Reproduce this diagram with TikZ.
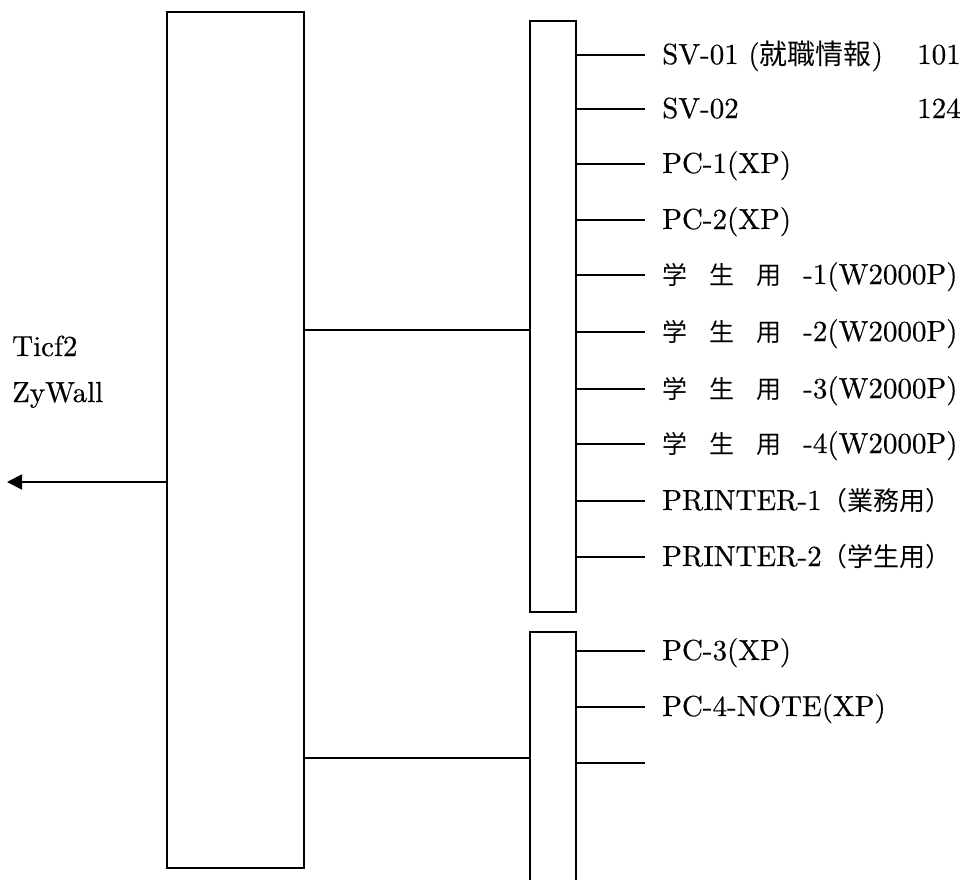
\documentclass[tikz,border=0pt]{standalone}
\usepackage{fontspec}
\setmainfont{lmroman10-regular.otf}[FakeBold=0.5]
\newfontfamily\cjk{Noto Sans CJK JP}
\usetikzlibrary{arrows.meta}
\tikzset{
  boxnode/.style={draw, line width=1.6pt, inner sep=0pt, rectangle},
  stub/.style={line width=1.4pt},
  wire/.style={line width=1.4pt},
  lbl/.style={inner sep=0pt, anchor=base west, font=\fontsize{29}{31}\selectfont},
}
\newcommand{\cj}[2]{{\cjk\fontsize{#1}{#1}\selectfont #2}}
\newcommand{\gk}[1]{\makebox[47pt][l]{\cj{25}{#1}}}
\begin{document}
\begin{tikzpicture}[x=1pt,y=-1pt]
\useasboundingbox (0,0) rectangle (966,879);
% boxes
\node[boxnode, minimum width=137pt, minimum height=856pt] (big) at (235.5,440) {};
\node[boxnode, minimum width=46pt, minimum height=591pt] (up) at (553,316.5) {};
\coordinate (lowTL) at (530,632);
\coordinate (lowTR) at (576,632);
\draw[line width=1.6pt] (530,900) -- (lowTL) -- (lowTR) -- (576,900);
% connectors big -> switches
\coordinate (c1) at (0,330);
\coordinate (c2) at (0,758);
\draw[wire] (big.east |- c1) -- (up.west |- c1);
\draw[wire] (big.east |- c2) -- (lowTL |- c2);
% uplink arrow
\coordinate (arr) at (7,482);
\draw[line width=1.8pt, -{Triangle[length=15pt,width=15pt]}] (big.west |- arr) -- (arr);
% left labels
\node[lbl] (ticf) at (12,356) {Ticf2};
\node[lbl] (zy) at (12,402) {ZyWall};
% upper stubs and labels
\foreach \i/\y in {1/55,2/109,3/164,4/220,5/275,6/332,7/389,8/444,9/501,10/557}{
  \coordinate (s\i) at (645,\y);
  \draw[stub] (up.east |- s\i) -- (s\i);
}
\node[lbl] (t1) at (662,64) {SV-01 (\cj{28}{就職情報})};
\node[lbl] (n1) at (917,64) {101};
\node[lbl] (t2) at (662,118) {SV-02};
\node[lbl] (n2) at (917,118) {124};
\node[lbl] (t3) at (662,173) {PC-1(XP)};
\node[lbl] (t4) at (662,229) {PC-2(XP)};
\node[lbl] (t5) at (662,284) {\gk{学}\gk{生}\gk{用}-1(W2000P)};
\node[lbl] (t6) at (662,341) {\gk{学}\gk{生}\gk{用}-2(W2000P)};
\node[lbl] (t7) at (662,398) {\gk{学}\gk{生}\gk{用}-3(W2000P)};
\node[lbl] (t8) at (662,453) {\gk{学}\gk{生}\gk{用}-4(W2000P)};
\node[lbl] (t9) at (662,510) {PRINTER-1\cj{26}{（業務用）}};
\node[lbl] (t10) at (662,566) {PRINTER-2\cj{26}{（学生用）}};
% lower stubs and labels
\foreach \i/\y in {11/651,12/707,13/763}{
  \coordinate (s\i) at (645,\y);
  \draw[stub] (lowTR |- s\i) -- (s\i);
}
\node[lbl] (t11) at (662,660) {PC-3(XP)};
\node[lbl] (t12) at (662,716) {PC-4-NOTE(XP)};
\end{tikzpicture}
\end{document}
